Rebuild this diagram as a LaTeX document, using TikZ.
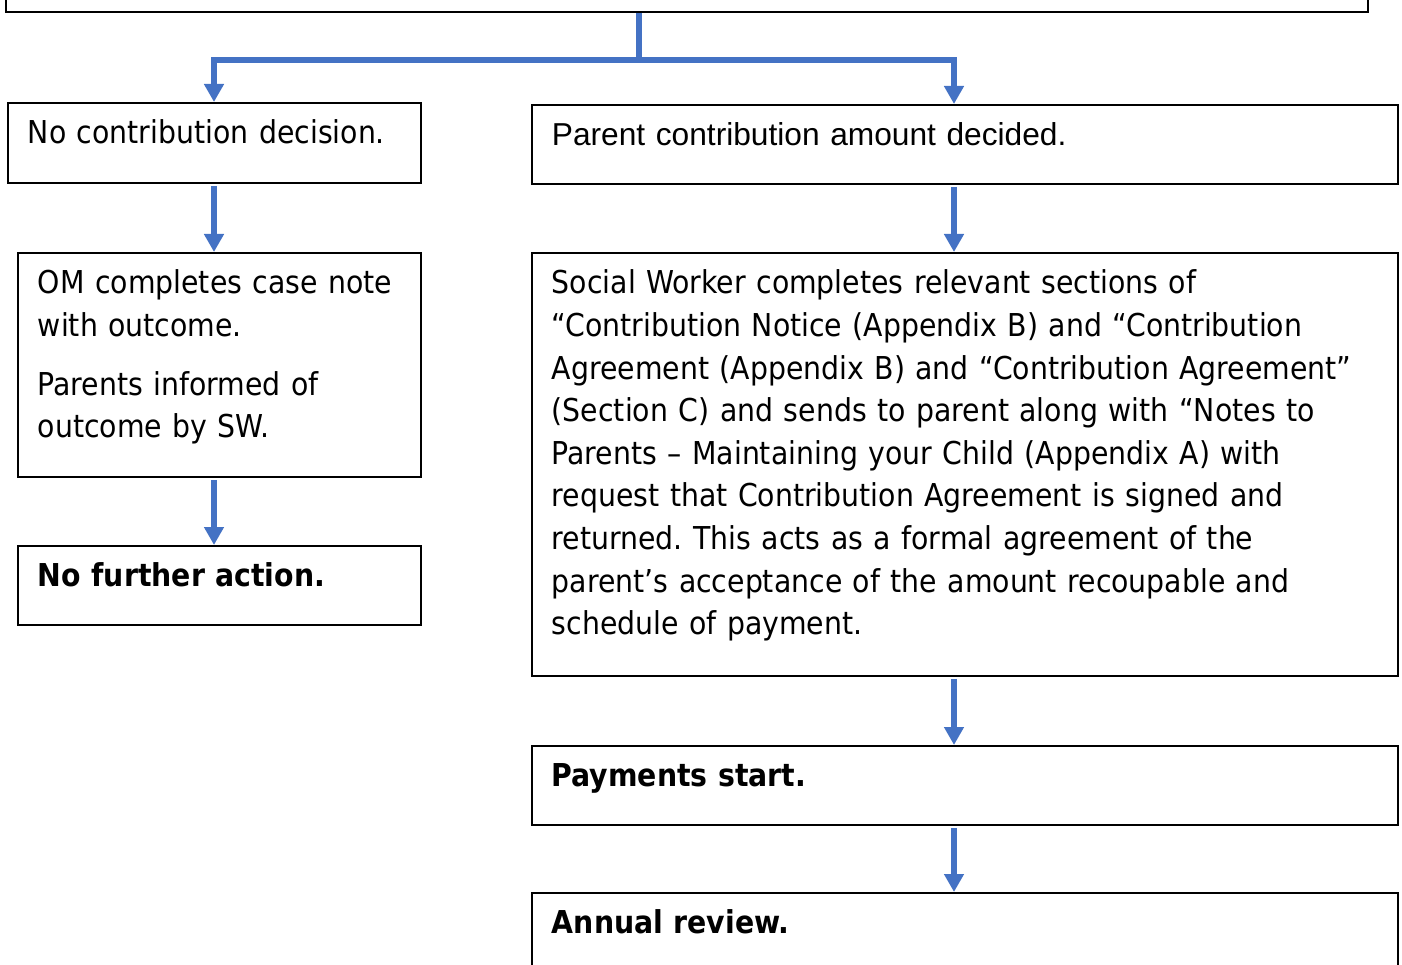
\documentclass[tikz,border=0pt]{standalone}
\usepackage{fontspec}
\setmainfont{DejaVu Sans Condensed}
\newfontfamily\arialfont{Liberation Sans}
\frenchspacing
\usetikzlibrary{calc,arrows.meta}
\definecolor{flowblue}{RGB}{68,114,196}
\tikzset{
  box/.style = {draw, line width = 1.8pt, anchor = north west, align = left,
    inner xsep = 20pt, inner ysep = 0pt, text height = 41pt,
    font = \fontsize{31.5}{42.6}\selectfont},
  link/.style = {draw = flowblue, line width = 5.5pt},
  flow/.style = {link, -{Triangle[width = 19pt, length = 18pt]}}
}

\begin{document}
\begin{tikzpicture}[x = 1pt, y = 1pt]
  \useasboundingbox (0,0) rectangle (1402,-965);

  \node [draw, line width = 1.8pt, anchor = south west, minimum width = 1362pt, minimum height = 60pt, inner sep = 0pt] (assess) at (5,-13) {};

  \node [box, text width = 373pt, text depth = 39pt] (nocontrib) at (7,-102) {No contribution decision.};
  \node [box, text width = 363pt, text depth = 183pt] (omnote) at (17,-252) {OM completes case note\\ with outcome.\\[16pt] Parents informed of\\ outcome by SW.};
  \node [box, text width = 363pt, text depth = 38pt] (nofurther) at (17,-545) {\textbf{No further action.}};

  \node [box, text width = 826pt, text depth = 38pt, font = \arialfont\fontsize{31.7}{42.6}\selectfont] (amount) at (531,-104) {Parent contribution amount decided.};
  \node [box, text width = 826pt, text depth = 382pt] (notice) at (531,-252) {Social Worker completes relevant sections of\\ “Contribution Notice (Appendix B) and “Contribution\\ Agreement (Appendix B) and “Contribution Agreement”\\ (Section C) and sends to parent along with “Notes to\\ Parents – Maintaining your Child (Appendix A) with\\ request that Contribution Agreement is signed and\\ returned. This acts as a formal agreement of the\\ parent’s acceptance of the amount recoupable and\\ schedule of payment.};
  \node [box, text width = 826pt, text depth = 38pt] (payments) at (531,-745) {\textbf{Payments start.}};
  \node [box, text width = 826pt, text depth = 39pt] (review) at (531,-892) {\textbf{Annual review.}};

  \coordinate (split) at (639,-60);
  \coordinate (leftcol) at (214,0);
  \coordinate (rightcol) at (954,0);

  \draw [link] (assess.south -| split) -- (split);
  \draw [flow] (split) -| (nocontrib.north -| leftcol);
  \draw [flow] (split) -| (amount.north -| rightcol);

  \draw [flow, shorten <= 2pt] (nocontrib.south -| leftcol) -- (omnote.north -| leftcol);
  \draw [flow, shorten <= 2pt] (omnote.south -| leftcol) -- (nofurther.north -| leftcol);

  \draw [flow, shorten <= 2pt] (amount.south -| rightcol) -- (notice.north -| rightcol);
  \draw [flow, shorten <= 2pt] (notice.south -| rightcol) -- (payments.north -| rightcol);
  \draw [flow, shorten <= 2pt] (payments.south -| rightcol) -- (review.north -| rightcol);
\end{tikzpicture}
\end{document}
